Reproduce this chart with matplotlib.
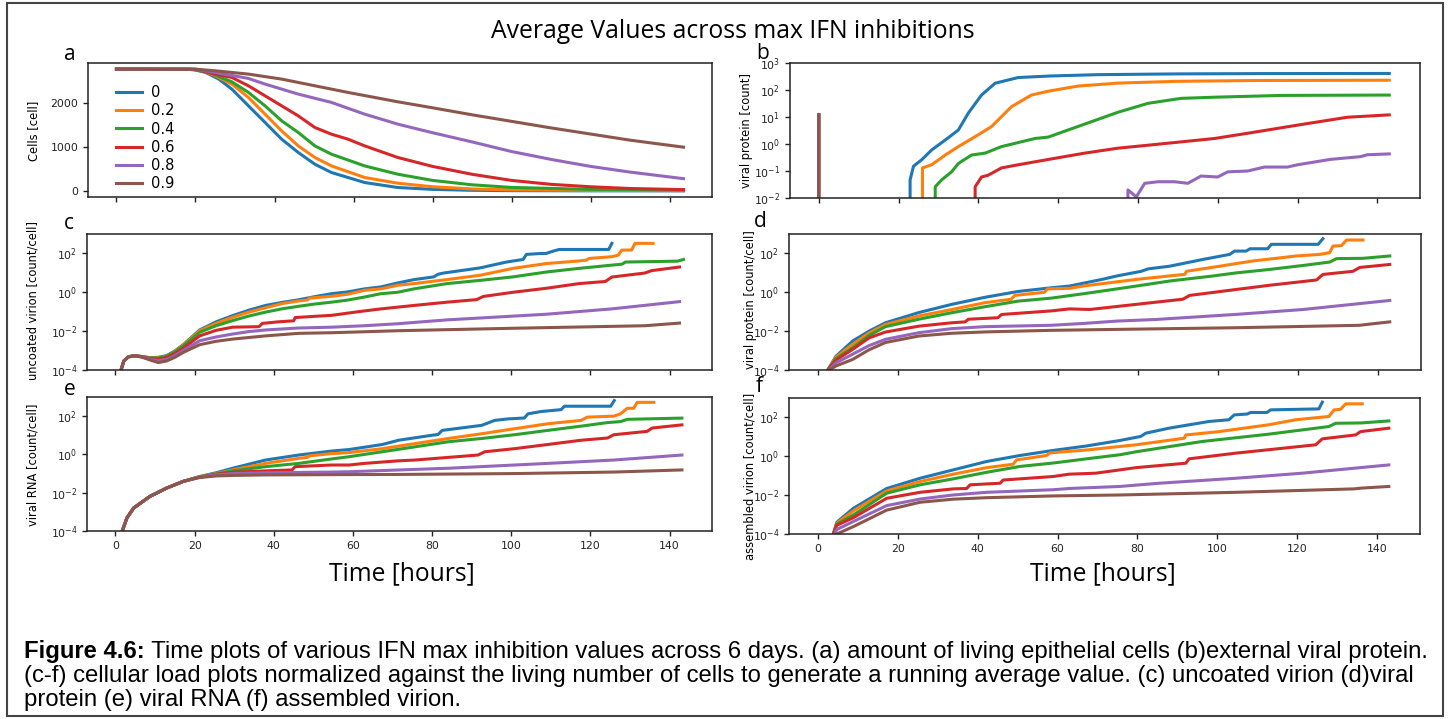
import matplotlib
matplotlib.use("Agg")
import matplotlib.pyplot as plt
from matplotlib.ticker import NullLocator, FixedLocator
from matplotlib.patches import Rectangle

W, H = 1451, 719

LABELS = ["0", "0.2", "0.4", "0.6", "0.8", "0.9"]
COLORS = ["#1f77b4", "#ff7f0e", "#2ca02c", "#d62728", "#9467bd", "#8c564b"]
XTICKS = [0, 20, 40, 60, 80, 100, 120, 140]

# ---- (a) living cells [cell] : (time, value) ----
A0 = [(0, 2785), (18, 2780), (20, 2765), (22.5, 2710), (25.9, 2556), (29.2, 2327), (33.4, 1945),
      (37.6, 1565), (41.8, 1183), (46, 879), (50.2, 611), (54.4, 421), (62.8, 192), (71.2, 78),
      (80, 35), (90, 14), (100, 6), (120, 2), (143.5, 1)]
A1 = [(0, 2785), (18, 2782), (21, 2770), (25, 2632), (29.2, 2442), (33.4, 2137), (37.6, 1755),
      (41.8, 1373), (46, 1030), (50.2, 764), (54.4, 572), (62.8, 307), (71.2, 176), (80, 95),
      (90, 45), (100, 25), (120, 12), (143.5, 8)]
A2 = [(0, 2785), (19, 2782), (23.3, 2709), (29.2, 2494), (33.4, 2251), (37.6, 1945), (41.8, 1602),
      (46, 1336), (50.2, 1030), (54.4, 840), (62.8, 572), (71.2, 382), (80, 240), (90, 140),
      (100, 80), (120, 35), (143.5, 20)]
A3 = [(0, 2785), (20, 2780), (25, 2670), (29.2, 2594), (33.4, 2403), (37.6, 2174), (41.8, 1945),
      (46, 1716), (50.2, 1450), (54.4, 1297), (58.6, 1183), (62.8, 1030), (71.2, 764), (80, 560),
      (90, 380), (100, 240), (110, 150), (120, 95), (130, 55), (143.5, 30)]
A4 = [(0, 2785), (20, 2782), (25, 2709), (33.4, 2571), (37.6, 2442), (46, 2213), (54.4, 2023),
      (62.8, 1755), (71.2, 1526), (80, 1330), (90, 1120), (100, 900), (110, 720), (120, 560),
      (130, 430), (143.5, 280)]
A5 = [(0, 2785), (20, 2782), (25, 2746), (33.4, 2670), (41.8, 2556), (50.2, 2403), (58.6, 2251),
      (71.2, 2037), (80, 1900), (90, 1740), (100, 1590), (110, 1440), (120, 1300), (130, 1160),
      (143.5, 1000)]

# ---- (b) external viral protein [count] ----
B0 = [(0, 12), (0.5, 0), (22.8, 0), (22.9, 0.047), (23.75, 0.15), (25.8, 0.26), (28.3, 0.6),
      (31.7, 1.4), (35, 3.3), (37.5, 14), (40.8, 65), (44.2, 178), (50, 290), (58, 330), (70, 370),
      (90, 395), (110, 405), (143, 410)]
B1 = [(0, 12), (0.5, 0), (25.9, 0), (26, 0.13), (28.3, 0.17), (31.7, 0.39), (35, 0.8), (40, 2.2),
      (43.3, 4.4), (48.3, 24), (53.3, 65), (57.5, 90), (65, 140), (75, 180), (90, 210),
      (110, 225), (143, 230)]
B2 = [(0, 12), (0.5, 0), (28.6, 0), (29.2, 0.026), (30.8, 0.047), (33.3, 0.093), (35, 0.19),
      (38.3, 0.39), (41.7, 0.46), (45.8, 0.8), (54.2, 1.6), (57.5, 1.8), (62.5, 3.3), (75, 15),
      (82.5, 32), (90.8, 49), (99, 54), (116, 63), (143, 65)]
B3 = [(0, 12), (0.5, 0), (38.7, 0), (39.2, 0.026), (40.8, 0.06), (42.5, 0.07), (45.8, 0.13),
      (50, 0.17), (58.3, 0.28), (66.7, 0.46), (75, 0.7), (82.5, 0.9), (99.2, 1.6), (107.5, 2.5),
      (120, 5), (132.5, 9.8), (143, 12)]
B4 = [(0, 12), (0.5, 0), (76.6, 0), (77.5, 0.02), (79.6, 0.011), (81.7, 0.035), (85, 0.04),
      (89.2, 0.04), (92.5, 0.035), (95.8, 0.065), (100, 0.06), (102.5, 0.093), (107.5, 0.1),
      (111.7, 0.14), (117.5, 0.14), (120, 0.17), (128.3, 0.27), (135.8, 0.34), (137.5, 0.4),
      (143, 0.43)]
B5 = [(0, 12), (0.5, 0), (143, 0)]

# ---- (c) uncoated virion [count/cell] ----
C0 = [(1.25, 8e-5), (2.1, 2.9e-4), (3.2, 4.7e-4), (4.6, 5.4e-4), (6.5, 5e-4), (8.7, 4.3e-4),
      (10.8, 4.5e-4), (12.9, 5.5e-4), (15, 9.5e-4), (17.1, 2e-3), (21.25, 0.0115), (25.4, 0.03),
      (29.6, 0.063), (33.7, 0.12), (37.9, 0.21), (42, 0.3), (46.25, 0.41), (50.4, 0.6),
      (54.6, 0.85), (58.75, 1.05), (62.9, 1.5), (67.1, 1.9), (71.25, 3.0), (75.4, 4.5),
      (80.4, 6.2), (81.5, 8.5), (82.9, 9.8), (92.1, 18), (98.75, 36), (103, 49), (103.8, 89),
      (107, 98), (108.8, 100), (110.5, 130), (112.1, 160), (124.6, 160), (125.4, 330)]
C1 = [(1.25, 8e-5), (2.1, 2.9e-4), (3.2, 4.7e-4), (4.6, 5.4e-4), (6.5, 5e-4), (8.7, 4.2e-4),
      (10.8, 4.3e-4), (12.9, 5.2e-4), (15, 9e-4), (17.1, 1.9e-3), (21.25, 0.0105), (25.4, 0.025),
      (29.6, 0.052), (33.7, 0.095), (37.9, 0.16), (42, 0.26), (46.25, 0.36), (48.5, 0.4),
      (49, 0.5), (54.6, 0.62), (58.75, 0.8), (62.9, 1.26), (67.1, 1.5), (71.25, 2.3), (75.4, 2.8),
      (83.75, 4.5), (92.1, 7.5), (100.4, 17), (108.75, 30), (117.1, 41), (119, 45), (119.6, 55),
      (125.4, 68), (127, 81), (127.9, 148), (130.4, 150), (131.25, 330), (135.8, 330)]
C2 = [(1.25, 8e-5), (2.1, 2.9e-4), (3.2, 4.7e-4), (4.6, 5.4e-4), (6.5, 5e-4), (8.7, 4.1e-4),
      (10.8, 4.1e-4), (12.9, 5e-4), (15, 8.5e-4), (17.1, 1.7e-3), (21.25, 0.0087), (25.4, 0.019),
      (29.6, 0.035), (33.7, 0.06), (37.9, 0.095), (42, 0.14), (46.25, 0.19), (50.4, 0.25),
      (54.6, 0.31), (58.75, 0.4), (62.9, 0.57), (67.1, 0.85), (71.25, 1.0), (75.4, 1.5),
      (83.75, 2.8), (92.1, 4.1), (100.4, 6.2), (108.75, 11), (117.1, 17), (125.4, 25),
      (128, 28), (128.8, 36), (142, 40), (143.5, 49)]
C3 = [(1.25, 8e-5), (2.1, 2.9e-4), (3.2, 4.7e-4), (4.6, 5.4e-4), (6.5, 4.9e-4), (8.7, 3.9e-4),
      (10.8, 3.6e-4), (12.9, 4.4e-4), (15, 7e-4), (17.1, 1.3e-3), (21.25, 0.0057), (25.4, 0.011),
      (29.6, 0.016), (36.25, 0.017), (37.1, 0.025), (41, 0.03), (45, 0.034), (45.4, 0.05),
      (50.4, 0.058), (54.6, 0.065), (58.75, 0.085), (62.9, 0.11), (67.1, 0.14), (75.4, 0.21),
      (83.75, 0.31), (91.25, 0.42), (92.9, 0.61), (100.4, 1.0), (108.75, 1.6), (117.1, 2.8),
      (123.75, 3.6), (125.4, 6.1), (133.75, 9.8), (135.4, 13), (142.5, 20)]
C4 = [(1.25, 8e-5), (2.1, 2.9e-4), (3.2, 4.7e-4), (4.6, 5.4e-4), (6.5, 4.8e-4), (8.7, 3.6e-4),
      (10.8, 3e-4), (12.9, 3.5e-4), (15, 5.5e-4), (17.1, 1e-3), (21.25, 0.0032), (25.4, 0.005),
      (29.6, 0.0071), (33.7, 0.0095), (37.9, 0.0115), (46.25, 0.0145), (54.6, 0.016),
      (62.9, 0.019), (71.25, 0.024), (83.75, 0.038), (108.75, 0.074), (125.4, 0.14),
      (142.5, 0.33)]
C5 = [(1.25, 8e-5), (2.1, 2.9e-4), (3.2, 4.7e-4), (4.6, 5.4e-4), (6.5, 4.7e-4), (8.7, 3.3e-4),
      (10.8, 2.4e-4), (12.9, 2.9e-4), (15, 4.5e-4), (17.1, 8e-4), (21.25, 0.002), (25.4, 0.003),
      (29.6, 0.0039), (37.9, 0.0057), (46.25, 0.0077), (54.6, 0.0083), (62.9, 0.0093),
      (71.25, 0.0105), (100, 0.014), (133.75, 0.019), (142.5, 0.026)]

# ---- (d) viral protein [count/cell] ----
D0 = [(2.5, 1e-4), (4.5, 5e-4), (8.7, 3.1e-3), (12.8, 0.01), (16.9, 0.027), (25.2, 0.09),
      (33.5, 0.24), (41.7, 0.55), (50, 1.1), (58.3, 1.7), (62.9, 2.1), (71.2, 4.7), (74.8, 7),
      (80.8, 12), (82.5, 16), (87.9, 22), (96.2, 49), (102.9, 89), (104.1, 132), (107, 132),
      (108, 174), (112.4, 174), (113.3, 294), (125, 294), (126.2, 575)]
D1 = [(2.5, 1e-4), (4.5, 4.5e-4), (8.7, 2.1e-3), (12.8, 0.008), (16.9, 0.022), (25.2, 0.06),
      (33.5, 0.13), (41.7, 0.29), (48.3, 0.44), (49.2, 0.69), (56.6, 1.0), (57.4, 1.5),
      (62.9, 1.6), (67, 2.2), (71.2, 2.8), (80, 4.7), (91.7, 8.4), (92.1, 12), (100.4, 22),
      (108.7, 41), (119.6, 74), (125.4, 89), (127.9, 110), (128.7, 240), (130.8, 250),
      (132.1, 490), (136.2, 490)]
D2 = [(2.5, 1e-4), (4.5, 3.8e-4), (8.7, 1.4e-3), (12.8, 0.006), (16.9, 0.017), (25.2, 0.041),
      (33.5, 0.089), (41.7, 0.18), (50, 0.35), (58.3, 0.5), (66.5, 0.85), (74.8, 1.5),
      (79.6, 2.1), (87.9, 3.8), (98.7, 6.9), (104.6, 10), (112.9, 15), (121.2, 24), (127.9, 36),
      (129.6, 54), (136.2, 56), (142.9, 74)]
D3 = [(2.5, 1e-4), (4.5, 3.2e-4), (8.7, 1.15e-3), (12.8, 0.0045), (16.9, 0.009), (25.2, 0.018),
      (33.5, 0.027), (36.8, 0.03), (37.6, 0.041), (45, 0.049), (45.9, 0.072), (58.3, 0.11),
      (62.9, 0.14), (67.9, 0.13), (79.6, 0.24), (91.2, 0.44), (92.9, 0.69), (104.6, 1.4),
      (112.9, 2.3), (124.6, 4.3), (126.2, 8.3), (133.7, 12), (135.4, 19), (142.9, 27)]
D4 = [(2.8, 1e-4), (4.5, 2.3e-4), (8.7, 6.5e-4), (12.8, 0.0018), (16.9, 0.0038), (25.2, 0.0083),
      (33.5, 0.0135), (41.7, 0.017), (58.3, 0.02), (66.5, 0.025), (74.8, 0.033), (84.6, 0.04),
      (104.6, 0.073), (121.2, 0.13), (142.9, 0.38)]
D5 = [(2.9, 1e-4), (4.5, 1.6e-4), (8.7, 3.5e-4), (12.8, 1.1e-3), (16.9, 0.0026), (25.2, 0.0056),
      (33.5, 0.0078), (41.7, 0.0091), (58.3, 0.011), (74.8, 0.0123), (104.6, 0.015),
      (135.4, 0.02), (137, 0.022), (142.9, 0.03)]

# ---- (e) viral RNA [count/cell] ----
E0 = [(1.7, 1e-4), (2.9, 4.9e-4), (4.6, 1.6e-3), (8.75, 6.5e-3), (12.9, 0.0174), (17.1, 0.039),
      (21.25, 0.07), (25.4, 0.11), (29.6, 0.19), (37.9, 0.51), (46.25, 0.93), (54.6, 1.5),
      (59, 1.8), (67.4, 3.3), (71.5, 5.5), (79.9, 10), (81.5, 11), (82.5, 18), (92.5, 33),
      (95.8, 60), (99.2, 72), (103.3, 80), (104.2, 132), (107.5, 174), (112.6, 219),
      (113.4, 330), (125.1, 330), (126, 650)]
E1 = [(1.7, 1e-4), (2.9, 4.9e-4), (4.6, 1.6e-3), (8.75, 6.5e-3), (12.9, 0.0174), (17.1, 0.039),
      (21.25, 0.068), (25.4, 0.1), (29.6, 0.155), (37.9, 0.34), (46.25, 0.62), (48.5, 0.7),
      (49, 0.85), (54.6, 1.1), (59, 1.25), (67.4, 2.0), (75.7, 3.7), (84.1, 6.8), (92.5, 12),
      (100.8, 22), (109.2, 40), (117.6, 60), (119.2, 89), (125.9, 100), (127.6, 132),
      (129.3, 257), (130.9, 257), (131.8, 525), (136, 525)]
E2 = [(1.7, 1e-4), (2.9, 4.9e-4), (4.6, 1.6e-3), (8.75, 6.5e-3), (12.9, 0.0174), (17.1, 0.039),
      (21.25, 0.067), (25.4, 0.095), (29.6, 0.138), (37.9, 0.23), (46.25, 0.34), (54.6, 0.58),
      (59, 0.76), (67.4, 1.38), (75.7, 2.5), (84.1, 4.6), (92.5, 6.8), (100.8, 10.7),
      (109.2, 18), (117.6, 30), (124.3, 46), (127.6, 52), (129.3, 68), (143.1, 79)]
E3 = [(1.7, 1e-4), (2.9, 4.9e-4), (4.6, 1.6e-3), (8.75, 6.5e-3), (12.9, 0.0174), (17.1, 0.039),
      (21.25, 0.066), (25.4, 0.09), (29.6, 0.117), (37.9, 0.138), (44.6, 0.155), (45.4, 0.23),
      (54.6, 0.28), (59, 0.28), (62.9, 0.34), (71.25, 0.46), (75.7, 0.51), (91.6, 0.93),
      (93.3, 1.38), (100.8, 2.0), (109.2, 3.3), (117.6, 5.5), (124.3, 7.2), (125.9, 10.7),
      (134.3, 16), (135.6, 24), (143.1, 35)]
E4 = [(1.7, 1e-4), (2.9, 4.9e-4), (4.6, 1.6e-3), (8.75, 6.5e-3), (12.9, 0.0174), (17.1, 0.039),
      (21.25, 0.065), (25.4, 0.085), (29.6, 0.1), (37.9, 0.11), (54.6, 0.12), (59, 0.125),
      (84.1, 0.19), (109.2, 0.34), (125.9, 0.51), (143.1, 0.93)]
E5 = [(1.7, 1e-4), (2.9, 4.9e-4), (4.6, 1.6e-3), (8.75, 6.5e-3), (12.9, 0.0174), (17.1, 0.039),
      (21.25, 0.062), (25.4, 0.075), (29.6, 0.08), (37.9, 0.085), (54.6, 0.088), (71.25, 0.09),
      (100.8, 0.1), (125.9, 0.12), (143.1, 0.155)]

# ---- (f) assembled virion [count/cell] ----
F0 = [(3.9, 1e-4), (4.75, 4e-4), (8.9, 2.1e-3), (17.25, 0.022), (25.6, 0.074), (33.9, 0.2),
      (42.25, 0.54), (50.6, 1.1), (58.9, 2.0), (67.25, 3.4), (75.6, 6.5), (80.8, 10.5),
      (82.1, 15.5), (87.9, 28), (97.9, 62), (102.9, 76), (104.2, 135), (107.5, 150),
      (108.3, 180), (112.4, 180), (113.3, 245), (125.4, 275), (126.25, 615)]
F1 = [(3.9, 1e-4), (4.75, 3.6e-4), (8.9, 1.55e-3), (17.25, 0.0166), (25.6, 0.05), (33.9, 0.12),
      (42.25, 0.26), (48.9, 0.39), (49.75, 0.65), (57.25, 1.1), (58.1, 1.5), (67.25, 2.1),
      (75.6, 3.2), (79.6, 3.9), (91.7, 8.5), (92.1, 12.5), (100.4, 18.6), (112.9, 42),
      (119.6, 76), (127.9, 112), (129.2, 245), (130.8, 260), (132.1, 500), (136.25, 500)]
F2 = [(3.9, 1e-4), (4.75, 3.2e-4), (8.9, 9.5e-4), (17.25, 0.0126), (25.6, 0.034), (33.9, 0.069),
      (42.25, 0.15), (50.6, 0.3), (58.9, 0.45), (67.25, 0.74), (75.6, 1.2), (79.6, 1.7),
      (96.25, 5.8), (112.9, 13.8), (127.9, 34), (129.6, 50), (136, 52), (142.9, 66)]
F3 = [(3.9, 1e-4), (4.75, 2.8e-4), (8.9, 6.9e-4), (17.25, 0.0069), (25.6, 0.014), (33.9, 0.021),
      (37.25, 0.022), (38.1, 0.034), (45.6, 0.041), (46.4, 0.06), (58.9, 0.091), (62.9, 0.12),
      (69.6, 0.135), (79.6, 0.26), (92.1, 0.44), (92.9, 0.74), (104.6, 1.45), (124.6, 3.9),
      (126.25, 7.9), (134.6, 12.6), (135.8, 18.6), (142.9, 28)]
F4 = [(4.2, 1e-4), (4.75, 1.7e-4), (8.9, 4.4e-4), (17.25, 0.0029), (25.6, 0.0063),
      (33.9, 0.0102), (42.25, 0.014), (58.9, 0.019), (62.9, 0.022), (75.6, 0.028), (85.4, 0.041),
      (104.6, 0.074), (121.25, 0.135), (142.9, 0.36)]
F5 = [(4.75, 1e-4), (8.9, 2.4e-4), (17.25, 0.0017), (25.6, 0.0043), (33.9, 0.0062),
      (42.25, 0.0074), (58.9, 0.0091), (75.6, 0.0102), (104.6, 0.014), (134.2, 0.021),
      (136, 0.023), (142.9, 0.028)]

PANELS = {
    "a": ([A0, A1, A2, A3, A4, A5], "Cells [cell]"),
    "b": ([B0, B1, B2, B3, B4, B5], "viral protein [count]"),
    "c": ([C0, C1, C2, C3, C4, C5], "uncoated virion [count/cell]"),
    "d": ([D0, D1, D2, D3, D4, D5], "viral protein [count/cell]"),
    "e": ([E0, E1, E2, E3, E4, E5], "viral RNA [count/cell]"),
    "f": ([F0, F1, F2, F3, F4, F5], "assembled virion [count/cell]"),
}

# layout in pixels: left, top, right, bottom
BOXES = {
    "a": (88, 63, 712, 197),
    "b": (790, 63, 1420, 198),
    "c": (87, 234, 712, 370),
    "d": (789, 234, 1421, 370),
    "e": (87, 397, 712, 531),
    "f": (789, 398, 1420, 534),
}
LABEL_X = {"a": 40, "b": 753, "c": 40, "d": 757, "e": 39, "f": 757}
LABEL_Y = {"a": 131, "b": 131, "c": 300, "d": 300, "e": 465, "f": 476}
LETTER_POS = {"a": (64, 60), "b": (756, 59), "c": (64, 229), "d": (754, 227),
              "e": (64, 395), "f": (756, 392)}


def rect(l, t, r, b):
    return [l / W, 1 - b / H, (r - l) / W, (b - t) / H]


fig = plt.figure(figsize=(W / 100, H / 100), dpi=100)
SANS2 = ["Open Sans", "DejaVu Sans"]

for key, (series, ylabel) in PANELS.items():
    l, t, r, b = BOXES[key]
    ax = fig.add_axes(rect(l, t, r, b))
    for s, col, lab in zip(series, COLORS, LABELS):
        xs = [p[0] for p in s]
        ys = [p[1] for p in s]
        ax.plot(xs, ys, color=col, lw=2.2, label=lab, solid_joinstyle="round")
    ax.set_xlim(-7.2, 150.7)
    ax.xaxis.set_major_locator(FixedLocator(XTICKS))
    if key in ("e", "f"):
        ax.set_xticklabels([str(v) for v in XTICKS])
    else:
        ax.set_xticklabels([])
    if key == "a":
        ax.set_ylim(-139, 2924)
        ax.yaxis.set_major_locator(FixedLocator([0, 1000, 2000]))
        ax.legend(loc="upper left", bbox_to_anchor=(0.045, 0.835), frameon=False,
                  fontsize=10.5, handlelength=1.8, handletextpad=0.6, labelspacing=0.22,
                  borderpad=0, borderaxespad=0)
    elif key == "b":
        ax.set_yscale("log")
        ax.set_ylim(1e-2, 1e3)
        ax.yaxis.set_major_locator(FixedLocator([1e-2, 1e-1, 1, 1e1, 1e2, 1e3]))
        ax.yaxis.set_minor_locator(NullLocator())
    else:
        ax.set_yscale("log")
        ax.set_ylim(1e-4, 1e3)
        ax.yaxis.set_major_locator(FixedLocator([1e-4, 1e-2, 1, 1e2]))
        ax.yaxis.set_minor_locator(NullLocator())
    ax.tick_params(labelsize=7.8, length=3.5, width=1, colors="#222222")
    for sp in ax.spines.values():
        sp.set_linewidth(1.1)
        sp.set_color("#222222")
    ax.set_ylabel(ylabel, fontsize=8.3)
    ax.yaxis.set_label_coords((LABEL_X[key] - l) / (r - l), (b - LABEL_Y[key]) / (b - t))
    lx, ly = LETTER_POS[key]
    fig.text(lx / W, 1 - ly / H, key, fontsize=15, family=SANS2, va="baseline", ha="left")

fig.text(733 / W, 1 - 38 / H, "Average Values across max IFN inhibitions", fontsize=17.8,
         family=SANS2, ha="center", va="baseline")
fig.text(402 / W, 1 - 580 / H, "Time [hours]", fontsize=17.7, family=SANS2,
         ha="center", va="baseline")
fig.text(1103 / W, 1 - 580 / H, "Time [hours]", fontsize=17.7, family=SANS2,
         ha="center", va="baseline")

# caption
CAP_FONT = ["Liberation Sans", "DejaVu Sans"]
CAP_SIZE = 17.2
renderer = fig.canvas.get_renderer()
bold = fig.text(24 / W, 1 - 658 / H, "Figure 4.6:", fontsize=CAP_SIZE, family=CAP_FONT,
                weight="bold", va="baseline", ha="left")
bb = bold.get_window_extent(renderer)
fig.text(bb.x1 / W, 1 - 658 / H,
         " Time plots of various IFN max inhibition values across 6 days. (a) amount of living "
         "epithelial cells (b)external viral protein.",
         fontsize=CAP_SIZE, family=CAP_FONT, va="baseline", ha="left")
fig.text(24 / W, 1 - 682 / H,
         "(c-f) cellular load plots normalized against the living number of cells to generate a "
         "running average value. (c) uncoated virion (d)viral",
         fontsize=CAP_SIZE, family=CAP_FONT, va="baseline", ha="left")
fig.text(24 / W, 1 - 706 / H, "protein (e) viral RNA (f) assembled virion.",
         fontsize=CAP_SIZE, family=CAP_FONT, va="baseline", ha="left")

# outer frame
fig.patches.append(Rectangle((7 / W, 1 - 716 / H), (1443 - 7) / W, (716 - 3) / H,
                             transform=fig.transFigure, fill=False, lw=1.5,
                             edgecolor="#444444"))

fig.savefig("out.png", dpi=100)
